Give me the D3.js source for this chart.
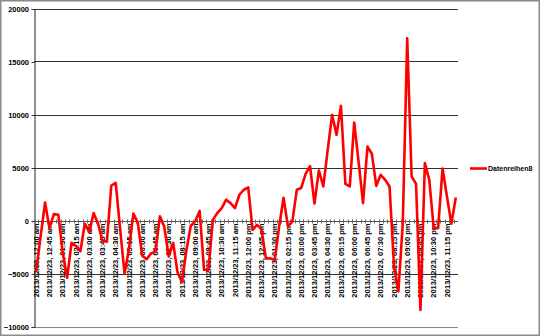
<!DOCTYPE html>
<html>
<head>
<meta charset="utf-8">
<script src="https://cdn.jsdelivr.net/npm/d3@7"></script>
<style>
  body { margin: 0; background: #fff; }
  svg { display: block; font-family: "Liberation Sans", Arial, sans-serif; }
  .lbl { font-size: 7.5px; font-weight: bold; fill: #000; }
</style>
</head>
<body>
<div id="chart"></div>
<script>
// data: one value every 15 minutes, 2013/12/23
const seriesName = "Datenreihen8";

const values = [
  -4800, -1500, 1700, -700, 600, 550, -3000, -5400,
  -2100, -2400, -2900, -300, -1100, 700, -300, -1900,
  -2000, 3300, 3550, -800, -5000, -2700, 650, -200,
  -3300, -3650, -3100, -2950, 400, -600, -3400, -2100,
  -4900, -5800, -2800, -500, -100, 900, -4650, -4650,
  60, 700, 1170, 1960, 1640, 1170, 2430, 2900,
  3130, -880, -410, -820, -3570, -3570, -3730, -570,
  2150, -550, -100, 2900, 3070, 4400, 5140, 1600,
  4720, 3210, 6670, 9970, 8080, 10820, 3460, 3210,
  9250, 5500, 1640, 6980, 6290, 3270, 4310, 3840,
  3210, -4200, -6700, -250, 17200, 4150, 3460, -8430,
  5410, 3840, -720, -720, 4900, 2260, -300, 2170
];

// category labels "2013/12/23, hh:mm am"
const categories = values.map(function (d, i) {
  let mins = i * 15;
  let h = Math.floor(mins / 60), m = mins % 60;
  let ap = h < 12 ? "am" : "pm";
  let h12 = h % 12 === 0 ? 12 : h % 12;
  return "2013/12/23, " + String(h12).padStart(2, "0") + ":" + String(m).padStart(2, "0") + " " + ap;
});

const yTicks = [-10000, -5000, 0, 5000, 10000, 15000, 20000];

// svg
const W = 540, H = 336;
const plot = { left: 34, right: 458, top: 8.5, bottom: 326.5 };

const svg = d3.select("#chart")
  .append("svg")
  .attr("width", W)
  .attr("height", H);

// outer border
svg.append("rect")
  .attr("x", 0.75).attr("y", 0.75)
  .attr("width", W - 1.5).attr("height", H - 1.5)
  .attr("fill", "#fff")
  .attr("stroke", "#8a8a8a")
  .attr("stroke-width", 1.5);

// scales
const x = d3.scaleBand()
  .domain(categories)
  .range([plot.left, plot.right])
  .padding(0);

const y = d3.scaleLinear()
  .domain([-10000, 20000])
  .range([plot.bottom, plot.top]);

const cx = function (c) { return x(c) + x.bandwidth() / 2; };

// gridlines
svg.append("g")
  .selectAll("line")
  .data(yTicks)
  .enter()
  .append("line")
  .attr("x1", plot.left)
  .attr("x2", plot.right)
  .attr("y1", function (d) { return Math.round(y(d)) + 0.5; })
  .attr("y2", function (d) { return Math.round(y(d)) + 0.5; })
  .attr("stroke", function (d) { return d === -10000 ? "#888" : "#333"; })
  .attr("stroke-width", 1);

// y axis
const yAxis = d3.axisLeft(y)
  .tickValues(yTicks)
  .tickSize(3)
  .tickPadding(2.5)
  .tickFormat(d3.format("d"));

const gy = svg.append("g")
  .attr("transform", "translate(" + (plot.left + 0.5) + ",0.5)")
  .call(yAxis);
gy.select(".domain").attr("stroke", "#222");
gy.selectAll(".tick line").attr("stroke", "#333");
gy.selectAll(".tick text")
  .attr("class", "lbl")
  .style("font-size", "7.5px")
  .style("font-weight", "bold")
  .style("font-family", "Liberation Sans, Arial, sans-serif");

// x axis at zero, with a tick at every category boundary
const y0 = Math.round(y(0)) + 0.5;
svg.append("line")
  .attr("x1", plot.left).attr("x2", plot.right)
  .attr("y1", y0).attr("y2", y0)
  .attr("stroke", "#555")
  .attr("stroke-width", 1);

svg.append("g")
  .selectAll("line")
  .data(categories)
  .enter()
  .append("line")
  .attr("x1", function (d) { return Math.round(x(d)) + 0.5; })
  .attr("x2", function (d) { return Math.round(x(d)) + 0.5; })
  .attr("y1", y0 - 2)
  .attr("y2", y0 + 2)
  .attr("stroke", "#666")
  .attr("stroke-width", 1);

// category labels every 3rd category, rotated
const xAxis = d3.axisBottom(x)
  .tickValues(categories.filter(function (d, i) { return i % 3 === 0; }))
  .tickSize(0)
  .tickPadding(0);

const gx = svg.append("g")
  .attr("transform", "translate(0," + y0 + ")")
  .call(xAxis);
gx.select(".domain").remove();
gx.selectAll(".tick text")
  .attr("class", "lbl")
  .style("font-size", "7.5px")
  .style("font-weight", "bold")
  .style("font-family", "Liberation Sans, Arial, sans-serif")
  .attr("text-anchor", "end")
  .attr("transform", "rotate(-90)")
  .attr("x", -2)
  .attr("y", 0)
  .attr("dy", "0.35em");

// the line
const line = d3.line()
  .x(function (d, i) { return cx(categories[i]); })
  .y(function (d) { return y(d); });

svg.append("path")
  .datum(values)
  .attr("d", line)
  .attr("fill", "none")
  .attr("stroke", "#ff0000")
  .attr("stroke-width", 2.6)
  .attr("stroke-linejoin", "round");

// legend
const legend = svg.append("g")
  .attr("transform", "translate(470," + (Math.round(y(5000)) + 0.5) + ")");

legend.append("line")
  .attr("x1", 0).attr("x2", 17)
  .attr("y1", 0).attr("y2", 0)
  .attr("stroke", "#ff0000")
  .attr("stroke-width", 2.6);

legend.append("text")
  .attr("class", "lbl")
  .attr("x", 18)
  .attr("y", 0)
  .attr("dy", "0.35em")
  .style("font-size", "7px")
  .text(seriesName);
</script>
</body>
</html>
